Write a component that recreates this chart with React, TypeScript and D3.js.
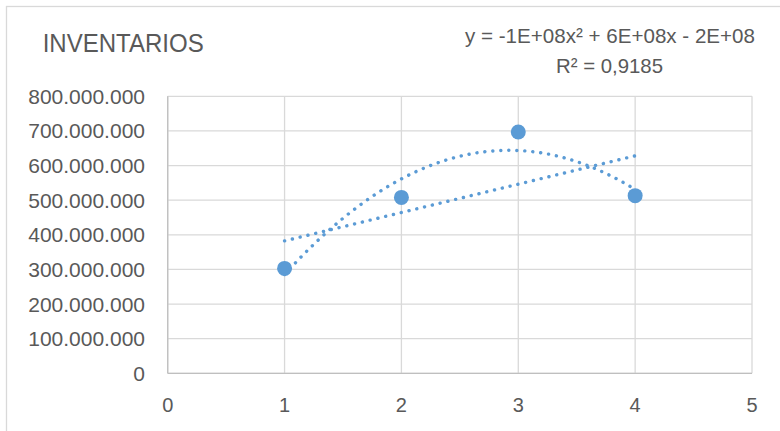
import React from "react";
import * as d3 from "d3";

const xValues = [1, 2, 3, 4];
const inventarios = [303000000, 508000000, 697000000, 513000000];
const xTicks = [0, 1, 2, 3, 4, 5];
const yTicks = [0, 100000000, 200000000, 300000000, 400000000, 500000000, 600000000, 700000000, 800000000];
const titleText = "INVENTARIOS";
const equationText = "y = -1E+08x² + 6E+08x - 2E+08";
const r2Text = "R² = 0,9185";

const W = 780;
const H = 431;
const PL = 167.7, PR = 752, PT = 96.3, PB = 373.3;
const BLUE = "#5B9BD5";
const TEXT = "#595959";
const FONT = "'Liberation Sans', Arial, sans-serif";

// least squares polynomial fit
function polyFit(xs: number[], ys: number[], deg: number): number[] {
  const n = deg + 1;
  const A: number[][] = [];
  for (let i = 0; i < n; i++) {
    A.push([]);
    for (let j = 0; j < n; j++) {
      A[i].push(d3.sum(xs, (x) => Math.pow(x, i + j)));
    }
    A[i].push(d3.sum(xs, (x, k) => Math.pow(x, i) * ys[k]));
  }
  for (let c = 0; c < n; c++) {
    let p = c;
    for (let r = c + 1; r < n; r++) if (Math.abs(A[r][c]) > Math.abs(A[p][c])) p = r;
    [A[c], A[p]] = [A[p], A[c]];
    for (let r = 0; r < n; r++) {
      if (r === c) continue;
      const f = A[r][c] / A[c][c];
      for (let k = c; k <= n; k++) A[r][k] -= f * A[c][k];
    }
  }
  return A.map((row, i) => row[n] / row[i]);
}

function evalPoly(c: number[], x: number) {
  return c.reduce((s, ci, i) => s + ci * Math.pow(x, i), 0);
}

export default function App() {
  const x = d3.scaleLinear().domain([0, 5]).range([PL, PR]);
  const y = d3.scaleLinear().domain([0, 800000000]).range([PB, PT]);
  const fmt = (v: number) => d3.format(",")(v).replace(/,/g, ".");

  const lin = polyFit(xValues, inventarios, 1);
  const quad = polyFit(xValues, inventarios, 2);
  const samples = d3.range(0, 301).map((i) => 1 + (3 * i) / 300);
  const linPath = d3.line<number>().x((t) => x(t)).y((t) => y(evalPoly(lin, t)))(samples) || "";
  const quadPath = d3.line<number>().x((t) => x(t)).y((t) => y(evalPoly(quad, t)))(samples) || "";

  return (
    <svg width={W} height={H} style={{ position: "absolute", left: 0, top: 0, background: "#fff" }}>
      <rect x={0} y={0} width={W} height={H} fill="#fff" />
      <rect x={6.5} y={6.5} width={900} height={600} fill="none" stroke="#d9d9d9" strokeWidth={1.3} />
      <text x={42.7} y={51.7} fontFamily={FONT} fontSize={26} fill={TEXT} textLength={161} lengthAdjust="spacingAndGlyphs">
        {titleText}
      </text>
      <text x={465} y={43.3} fontFamily={FONT} fontSize={21} fill={TEXT} textLength={290} lengthAdjust="spacingAndGlyphs">
        {equationText}
      </text>
      <text x={556} y={73.3} fontFamily={FONT} fontSize={21} fill={TEXT} textLength={107} lengthAdjust="spacingAndGlyphs">
        {r2Text}
      </text>
      {yTicks.map((t) => (
        <line key={"gy" + t} x1={PL} x2={PR} y1={y(t)} y2={y(t)} stroke="#d9d9d9" strokeWidth={1.3} />
      ))}
      {xTicks.map((t) => (
        <line key={"gx" + t} x1={x(t)} x2={x(t)} y1={PT} y2={PB} stroke="#d9d9d9" strokeWidth={1.3} />
      ))}
      <line x1={PL} x2={PR} y1={PB} y2={PB} stroke="#bfbfbf" strokeWidth={1.3} />
      <line x1={PL} x2={PL} y1={PT} y2={PB} stroke="#bfbfbf" strokeWidth={1.3} />
      {yTicks.map((t) => (
        <text key={"ly" + t} x={145} y={y(t)} dy="0.36em" textAnchor="end" fontFamily={FONT} fontSize={21} fill={TEXT}>
          {fmt(t)}
        </text>
      ))}
      {xTicks.map((t) => (
        <text key={"lx" + t} x={x(t)} y={412} textAnchor="middle" fontFamily={FONT} fontSize={20} fill={TEXT}>
          {t}
        </text>
      ))}
      {xValues.map((xv, i) => (
        <circle key={"p" + i} cx={x(xv)} cy={y(inventarios[i])} r={7.5} fill={BLUE} />
      ))}
      <path d={linPath} fill="none" stroke={BLUE} strokeWidth={3.4} strokeLinecap="round" strokeDasharray="0.1 7.9" />
      <path d={quadPath} fill="none" stroke={BLUE} strokeWidth={3.4} strokeLinecap="round" strokeDasharray="0.1 7.9" />
    </svg>
  );
}
